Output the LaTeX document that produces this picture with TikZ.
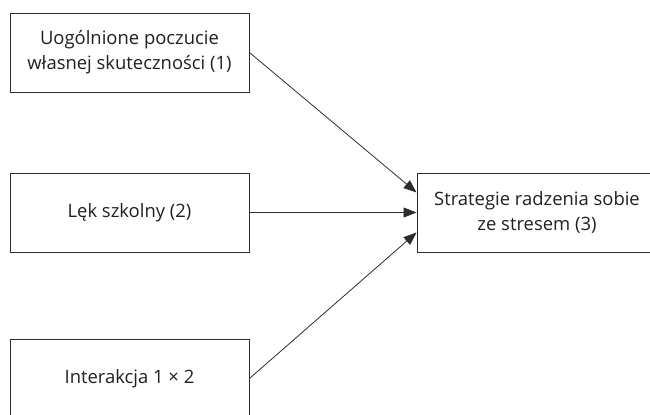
\documentclass[tikz,border=0pt]{standalone}
\usepackage{fontspec}
\setmainfont{Open Sans}
\usepackage{tikz}
\usetikzlibrary{positioning, arrows.meta, calc}
\definecolor{linegray}{RGB}{45, 45, 45}
\definecolor{textgray}{RGB}{35, 31, 32}

\begin{document}
\begin{tikzpicture}[x=1bp, y=1bp,
        varbox/.style={draw=linegray, line width=0.9bp, minimum width=239bp, minimum height=79bp,
            align=center, inner sep=0pt, text=textgray, font=\fontsize{18.5}{25}\selectfont},
        path/.style={draw=linegray, line width=0.8bp, -{Triangle[length=13bp, width=10bp]}}]
        \useasboundingbox (0,0) rectangle (650,414);
        % predictors on the left
        \node[varbox] (efficacy) at (129.5,361.5) {Uogólnione poczucie\\własnej skuteczności (1)};
        \node[varbox] (anxiety) at (129.5,201.5) {Lęk szkolny (2)};
        \node[varbox] (interact) at (129.5,35.5) {Interakcja 1 × 2};
        % outcome on the right
        \node[varbox, minimum width=240bp] (coping) at (537,201.5) {Strategie radzenia sobie\\ze stresem (3)};
        \draw[path] (efficacy.east) -- ([yshift=20bp]coping.west);
        \draw[path] (anxiety.east) -- (coping.west);
        \draw[path] (interact.east) -- ([yshift=-20bp]coping.west);
    \end{tikzpicture}
\end{document}
